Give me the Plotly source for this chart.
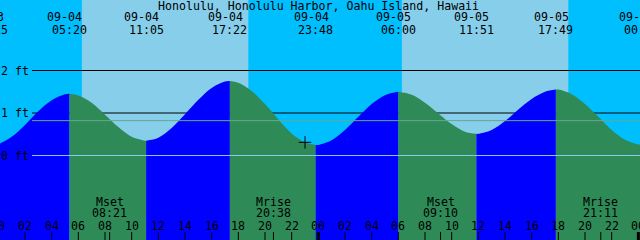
import plotly.graph_objects as go

# ---------------- data (hours counted from 09-04 00:00) ----------------
title_text = "Honolulu, Honolulu Harbor, Oahu Island, Hawaii"

tide_dates = ["09-03", "09-04", "09-04", "09-04", "09-04", "09-05", "09-05", "09-05", "09-06"]
tide_clock = ["23:25", "05:20", "11:05", "17:22", "23:48", "06:00", "11:51", "17:49", "00:12"]
tide_kinds = ["L", "H", "L", "H", "L", "H", "L", "H", "L"]
tide_heights = [0.24, 1.45, 0.35, 1.75, 0.25, 1.50, 0.51, 1.55, 0.26]

hourly_times = list(range(0, 49))
hourly_heights = [
    0.27, 0.44, 0.72, 1.04, 1.30, 1.44,
    1.41, 1.24, 0.96, 0.67, 0.44, 0.35,
    0.42, 0.65, 0.97, 1.31, 1.59, 1.74,
    1.71, 1.52, 1.21, 0.85, 0.52, 0.31,
    0.25, 0.36, 0.60, 0.91, 1.21, 1.42,
    1.50, 1.43, 1.24, 0.99, 0.74, 0.56,
    0.51, 0.60, 0.81, 1.08, 1.33, 1.50,
    1.55, 1.44, 1.21, 0.91, 0.60, 0.37,
    0.26,
]

moon_names = ["Mset", "Mrise", "Mset", "Mrise"]
moon_dates = ["09-04", "09-04", "09-05", "09-05"]
moon_clock = ["08:21", "20:38", "09:10", "21:11"]

sun_dates = ["09-04", "09-04", "09-05", "09-05"]
sun_clock = ["06:16", "18:45", "06:16", "18:45"]  # rise, set, rise, set

now_date, now_clock, now_height = "09-04", "23:00", 0.31

depth_levels = [2, 1, 0]
depth_labels = ["2 ft", "1 ft", "0 ft"]
msl_level = 0.82

hour_ticks = list(range(0, 49, 2))
hour_labels = ["%02d" % (h % 24) for h in hour_ticks]

x_range = [0.125, 48.125]
y_range = [-1.9882, 3.6588]

# ---------------- styles ----------------
NIGHT = "#00BFFF"
DAY = "#87CEEB"
RISE = "#0000FF"
FALL = "#2E8B57"
MSL_COL = "#66A88F"
DATUM_COL = "#8CC8EE"
FONT = dict(family="DejaVu Sans Mono", size=11.6, color="black")
H = 240.0
W = 640.0


def to_hours(date, clock):
    day = int(date.split("-")[1])
    hh, mm = clock.split(":")
    return (day - 4) * 24 + int(hh) + int(mm) / 60.0


def py(px):  # pixel row -> paper y
    return 1 - px / H


def px_(t):  # hours -> paper x (through the x range)
    return (t - x_range[0]) / (x_range[1] - x_range[0])


tide_times = [to_hours(d, c) for d, c in zip(tide_dates, tide_clock)]
moon_times = [to_hours(d, c) for d, c in zip(moon_dates, moon_clock)]
sun_times = [to_hours(d, c) for d, c in zip(sun_dates, sun_clock)]
now_time = to_hours(now_date, now_clock)

pts = {}
for t, h in zip(hourly_times, hourly_heights):
    pts[float(t)] = h
for t, h in zip(tide_times, tide_heights):
    pts = {k: v for k, v in pts.items() if abs(k - t) > 1e-6}
    pts[t] = h
pts = sorted(pts.items())

fig = go.Figure()
ybot = y_range[0] - 1

for i in range(len(tide_times) - 1):
    tA, tB = tide_times[i], tide_times[i + 1]
    seg = [(t, h) for t, h in pts if tA - 1e-9 <= t <= tB + 1e-9]
    col = RISE if tide_kinds[i] == "L" else FALL
    fig.add_trace(go.Scatter(x=[tA, tB], y=[ybot, ybot], mode="lines",
                             line=dict(width=0), hoverinfo="skip", showlegend=False))
    fig.add_trace(go.Scatter(x=[p[0] for p in seg], y=[p[1] for p in seg], mode="lines",
                             line=dict(width=0, shape="spline", color=col),
                             fill="tonexty", fillcolor=col,
                             hoverinfo="skip", showlegend=False))

fig.add_trace(go.Scatter(x=[now_time], y=[now_height], mode="markers",
                         marker=dict(symbol="cross-thin", size=9,
                                     line=dict(width=1, color="black")),
                         hoverinfo="skip", showlegend=False))

shapes = []
for k in range(0, len(sun_times), 2):
    shapes.append(dict(type="rect", xref="x", yref="paper", x0=sun_times[k], x1=sun_times[k + 1],
                       y0=0, y1=1, fillcolor=DAY, line=dict(width=0), layer="below"))
for lv in depth_levels:
    if lv != 0:
        shapes.append(dict(type="line", xref="paper", yref="y", x0=32 / W, x1=1, y0=lv, y1=lv,
                           line=dict(color="black", width=1), layer="below"))
shapes.append(dict(type="line", xref="paper", yref="y", x0=32 / W, x1=1, y0=msl_level, y1=msl_level,
                   line=dict(color=MSL_COL, width=1), layer="above"))
shapes.append(dict(type="line", xref="paper", yref="y", x0=32 / W, x1=1, y0=0, y1=0,
                   line=dict(color=DATUM_COL, width=1), layer="above"))
for h in hour_ticks:
    shapes.append(dict(type="line", xref="x", yref="paper", x0=h, x1=h, y0=0, y1=8 / H,
                       line=dict(color="black", width=3 if h % 24 == 0 else 1), layer="above"))
for t in moon_times:
    shapes.append(dict(type="line", xref="x", yref="paper", x0=t, x1=t, y0=0, y1=8 / H,
                       line=dict(color="black", width=1), layer="above"))

ann = []


def add_text(text, x, y, xanchor="center", xshift=0, yref="paper"):
    ann.append(dict(text=text, x=x, xref="paper", y=y, yref=yref, xshift=xshift,
                    showarrow=False, font=FONT, xanchor=xanchor, yanchor="middle",
                    borderpad=0))


add_text(title_text, 318.5 / W, py(5.5))
for t, d, c in zip(tide_times, tide_dates, tide_clock):
    add_text(d, px_(t), py(17.5), xshift=-4.5)
    add_text(c, px_(t), py(30))
for lv, lab in zip(depth_levels, depth_labels):
    add_text(lab, 0, lv, xanchor="left", yref="y")
for t, n, c in zip(moon_times, moon_names, moon_clock):
    add_text(n, px_(t), py(202))
    add_text(c, px_(t), py(212.5))
for h, lab in zip(hour_ticks, hour_labels):
    add_text(lab, px_(h), py(226))

fig.update_layout(
    width=640, height=240, margin=dict(l=0, r=0, t=0, b=0, pad=0),
    paper_bgcolor=NIGHT, plot_bgcolor=NIGHT,
    xaxis=dict(range=x_range, visible=False, fixedrange=True),
    yaxis=dict(range=y_range, visible=False, fixedrange=True),
    shapes=shapes, annotations=ann, hovermode=False, showlegend=False,
)

fig.write_html("out.html", config={"displayModeBar": False})
